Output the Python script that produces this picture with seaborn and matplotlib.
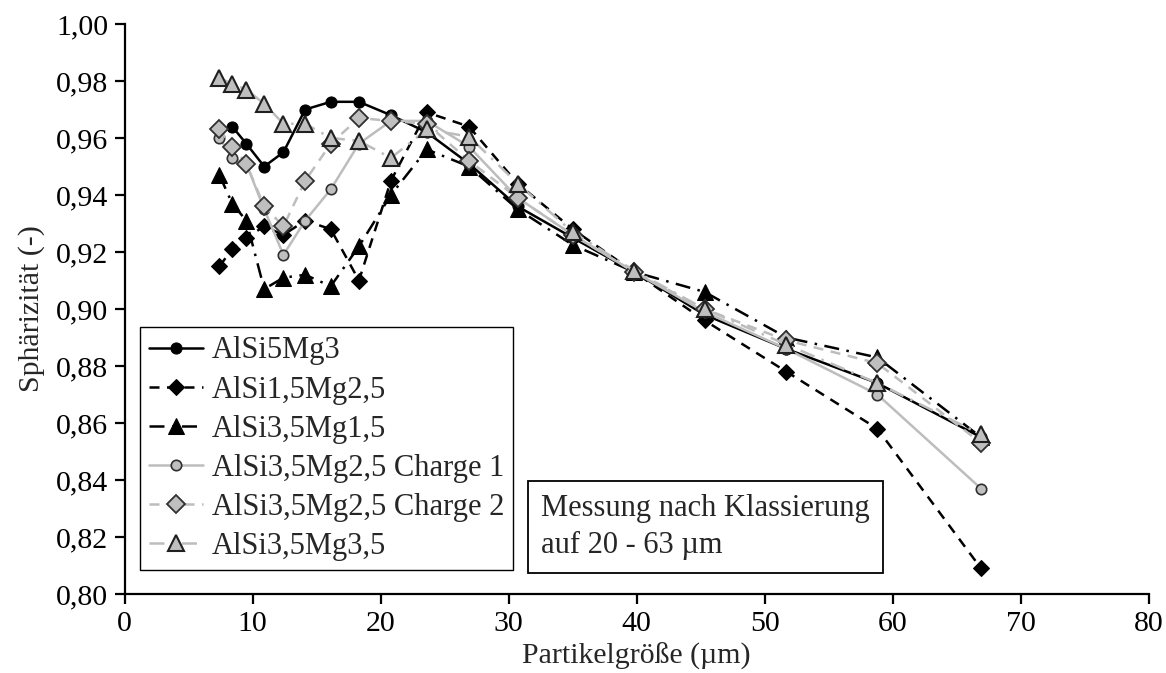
import matplotlib
matplotlib.use("Agg")
import matplotlib.pyplot as plt
import seaborn as sns
import pandas as pd
from matplotlib.ticker import FuncFormatter, MultipleLocator

# ---- data ----
x_all = [7.4, 8.4, 9.5, 10.9, 12.4, 14.1, 16.1, 18.3, 20.8, 23.6, 26.9, 30.7, 35.0, 39.8, 45.3, 51.7, 58.8, 66.9]

alsi5mg3_x = x_all[1:]
alsi5mg3 = [0.964, 0.958, 0.950, 0.955, 0.970, 0.9727, 0.9727, 0.968, 0.962, 0.951, 0.936, 0.925, 0.913, 0.898, 0.886, 0.874, 0.855]

alsi15mg25 = [0.915, 0.921, 0.925, 0.929, 0.926, 0.931, 0.928, 0.910, 0.945, 0.969, 0.964, 0.944, 0.928, 0.913, 0.896, 0.878, 0.858, 0.809]
alsi35mg15 = [0.947, 0.937, 0.931, 0.907, 0.911, 0.912, 0.908, 0.922, 0.940, 0.956, 0.950, 0.935, 0.9225, 0.913, 0.906, 0.890, 0.883, 0.855]
alsi35mg25_c1 = [0.960, 0.953, 0.951, 0.935, 0.919, 0.931, 0.942, 0.958, 0.966, 0.966, 0.957, 0.939, 0.926, 0.913, 0.899, 0.886, 0.870, 0.837]
alsi35mg25_c2 = [0.963, 0.957, 0.951, 0.936, 0.929, 0.945, 0.958, 0.967, 0.966, 0.965, 0.952, 0.939, 0.926, 0.913, 0.900, 0.889, 0.881, 0.853]
alsi35mg35 = [0.981, 0.979, 0.977, 0.972, 0.965, 0.965, 0.960, 0.959, 0.953, 0.963, 0.9605, 0.944, 0.927, 0.9135, 0.900, 0.8875, 0.874, 0.856]

labels = ["AlSi5Mg3", "AlSi1,5Mg2,5", "AlSi3,5Mg1,5",
          "AlSi3,5Mg2,5 Charge 1", "AlSi3,5Mg2,5 Charge 2", "AlSi3,5Mg3,5"]
x_ticks = [0, 10, 20, 30, 40, 50, 60, 70, 80]
xlabel = "Partikelgröße (µm)"
ylabel = "Sphärizität (-)"
note = "Messung nach Klassierung\nauf 20 - 63 µm"

FS = 21.5
FS_LEG = 22

# ---- style ----
sns.set_style("ticks")
plt.rcParams['font.family'] = ['Liberation Serif', 'DejaVu Serif']
plt.rcParams['font.size'] = FS
plt.rcParams['axes.linewidth'] = 1.6
plt.rcParams['xtick.major.width'] = 1.6
plt.rcParams['ytick.major.width'] = 1.6
plt.rcParams['xtick.major.size'] = 7
plt.rcParams['ytick.major.size'] = 7
plt.rcParams['xtick.color'] = 'black'
plt.rcParams['ytick.color'] = 'black'
plt.rcParams['axes.edgecolor'] = 'black'

fig = plt.figure(figsize=(11.66, 6.73), dpi=100)
ax = fig.add_axes([124.7/1166, (673-594)/673, 1024/1166, 570/673])

gray_line = '#BDBDBD'
gray_face = '#BFBFBF'

series = [
    (alsi5mg3_x, alsi5mg3, labels[0], dict(color='black', linestyle='-', marker='o', markersize=8,
                                            markerfacecolor='black', markeredgecolor='black', linewidth=1.8)),
    (x_all, alsi15mg25, labels[1], dict(color='black', linestyle=(0, (4, 3)), marker='D', markersize=8,
                                         markerfacecolor='black', markeredgecolor='black', linewidth=1.8)),
    (x_all, alsi35mg15, labels[2], dict(color='black', linestyle=(0, (6, 3, 1, 3)), marker='^', markersize=11,
                                         markerfacecolor='black', markeredgecolor='black', linewidth=1.8)),
    (x_all, alsi35mg25_c1, labels[3], dict(color=gray_line, linestyle='-', marker='o', markersize=7.5,
                                            markerfacecolor=gray_face, markeredgecolor='#303030', markeredgewidth=1.2, linewidth=1.8)),
    (x_all, alsi35mg25_c2, labels[4], dict(color=gray_line, linestyle=(0, (4, 3)), marker='D', markersize=9,
                                            markerfacecolor=gray_face, markeredgecolor='#303030', markeredgewidth=1.3, linewidth=1.8)),
    (x_all, alsi35mg35, labels[5], dict(color=gray_line, linestyle=(0, (6, 3, 1, 3)), marker='^', markersize=11.5,
                                         markerfacecolor=gray_face, markeredgecolor='#202020', markeredgewidth=1.5, linewidth=1.8)),
]

for xs, ys, lab, kw in series:
    df = pd.DataFrame({'x': xs, 'y': ys})
    sns.lineplot(data=df, x='x', y='y', ax=ax, label=lab, sort=False, estimator=None, **kw)

ax.set_xlim(0, 80)
ax.set_ylim(0.80, 1.00)
ax.set_xticks(x_ticks)
ax.yaxis.set_major_locator(MultipleLocator(0.02))
ax.yaxis.set_major_formatter(FuncFormatter(lambda v, p: f"{v:.2f}".replace('.', ',')))
ax.tick_params(axis='both', labelsize=FS, direction='out', pad=5)
ax.spines['top'].set_visible(False)
ax.spines['right'].set_visible(False)
ax.set_xlabel(xlabel, fontsize=FS, labelpad=4)
ax.set_ylabel(ylabel, fontsize=FS, labelpad=8)

leg = ax.legend(loc='lower left', bbox_to_anchor=(0.015, 0.042), frameon=True, fancybox=False,
                edgecolor='black', framealpha=1, fontsize=FS_LEG, handlelength=1.75, handletextpad=0.3,
                labelspacing=0.33, borderpad=0.3, borderaxespad=0)
leg.get_frame().set_linewidth(1.0)

ax.text(0.4065, 0.1175, note, transform=ax.transAxes, fontsize=FS_LEG, ha='left', va='center',
        linespacing=1.35,
        bbox=dict(boxstyle='square,pad=0.42', facecolor='white', edgecolor='black', linewidth=1.3))

fig.savefig('out.png', dpi=100)
